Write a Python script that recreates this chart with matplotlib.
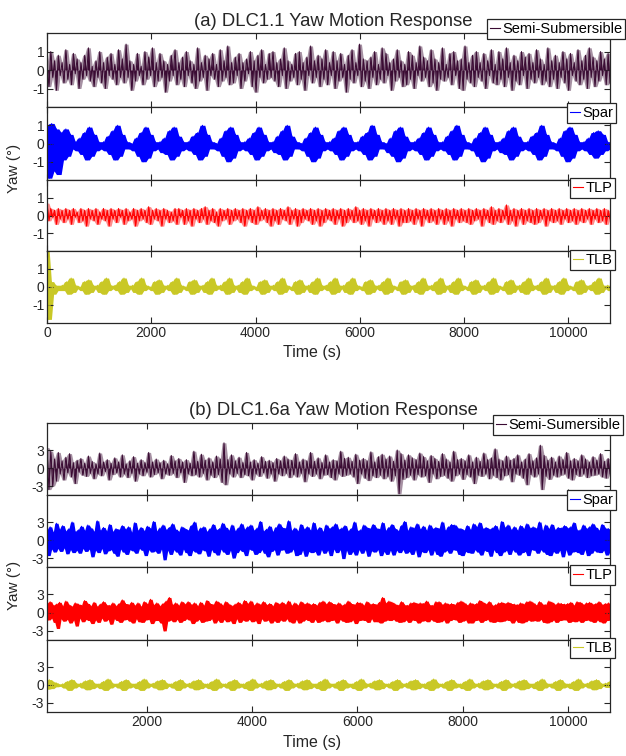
import numpy as np
import matplotlib
matplotlib.use("Agg")
import matplotlib.pyplot as plt

plt.rcParams['font.family'] = ['Liberation Sans', 'DejaVu Sans']

# ---------------- data ----------------
time_range_a = (0, 10800)
time_range_b = (100, 10800)
xticks_a = [0, 2000, 4000, 6000, 8000, 10000]
xticks_b = [2000, 4000, 6000, 8000, 10000]
yticks_a = [-1, 0, 1]
yticks_b = [-3, 0, 3]
labels_a = ['Semi-Submersible', 'Spar', 'TLP', 'TLB']
labels_b = ['Semi-Sumersible', 'Spar', 'TLP', 'TLB']
title_a = '(a) DLC1.1 Yaw Motion Response'
title_b = '(b) DLC1.6a Yaw Motion Response'

semi_a = [
    0.3, -0.9, 1.0, -0.4, 0.5, -1.1, 0.8, -0.3, 0.4, -0.7,
    1.1, -0.5, 0.3, -0.8, 0.9, -0.2, 0.6, -1.0, 0.4, -0.5,
    0.8, -0.3, 1.2, -0.6, 0.2, -0.9, 0.5, -0.4, 1.0, -0.7,
    0.4, -1.0, 0.7, -0.3, 0.9, -0.5, 0.3, -0.8, 1.1, -0.4,
    0.6, -0.7, 1.4, -0.4, 0.5, -1.1, 0.3, -0.6, 0.9, -0.3,
    0.2, -0.8, 1.0, -0.5, 0.7, -0.3, 1.2, -0.9, 0.4, -0.6,
    0.9, -0.4, 0.5, -1.2, 0.3, -0.6, 0.8, -0.3, 1.1, -0.8,
    0.4, -0.5, 0.7, -0.9, 1.0, -0.3, 0.5, -0.7, 0.3, -1.0,
    1.2, -0.6, 0.4, -0.4, 0.8, -1.1, 0.6, -0.3, 0.9, -0.5,
    0.3, -0.9, 1.1, -0.6, 0.5, -0.4, 1.3, -0.8, 0.4, -0.7,
    0.7, -0.3, 0.9, -1.0, 0.4, -0.6, 0.6, -0.2, 1.0, -0.9,
    0.5, -1.2, 0.8, -0.4, 1.1, -0.7, 0.3, -0.5, 0.9, -0.4,
    1.0, -0.6, 0.4, -0.9, 0.6, -0.3, 1.2, -1.0, 0.5, -0.6,
    0.3, -0.4, 0.9, -0.8, 1.0, -0.5, 0.4, -1.1, 0.7, -0.3,
    1.3, -0.7, 0.5, -0.4, 0.8, -0.9, 0.6, -0.5, 1.1, -0.8,
    0.4, -0.3, 1.0, -1.0, 0.5, -0.6, 0.9, -0.4, 0.3, -1.2,
    0.8, -0.5, 1.1, -0.7, 0.4, -0.3, 1.4, -0.9, 0.6, -0.6,
    0.5, -1.0, 0.7, -0.4, 1.0, -0.8, 0.3, -0.5, 1.2, -0.7,
    0.9, -0.3, 0.4, -1.1, 0.6, -0.6, 1.1, -0.4, 0.5, -0.9,
    0.3, -0.8, 1.0, -0.5, 0.8, -1.0, 0.4, -0.3, 1.3, -0.6,
    0.7, -0.4, 0.5, -0.9, 1.1, -0.7, 0.6, -1.1, 0.4, -0.5,
    1.2, -0.6, 0.3, -0.4, 0.9, -0.8, 1.0, -0.3, 0.5, -1.0,
    0.6, -1.1, 1.3, -0.5, 0.4, -0.7, 0.8, -0.9, 1.0, -0.4,
    0.4, -0.6, 0.9, -1.0, 0.5, -0.3, 1.1, -0.7, 0.3, -0.8,
    1.0, -0.5, 0.6, -0.9, 1.2, -0.4, 0.4, -1.1, 0.8, -0.6,
    0.5, -0.8, 1.0, -0.3, 0.7, -1.0, 0.9, -0.5, 0.4, -0.7,
    1.1, -0.4, 0.6, -0.8, 0.3, -0.6, 1.2, -0.9, 0.5, -0.5,
    0.8, -1.0, 0.4, -0.4, 1.0, -0.7, 0.6, -1.1, 0.9, -0.3,
    0.4, -0.6, 1.1, -0.8, 0.5, -0.5, 0.8, -1.0, 1.2, -0.4,
    0.7, -0.9, 0.5, -0.6, 1.0, -0.3, 0.6, -0.8, 0.9, -0.7,
]

spar_a = [
    1.0, -1.9, 1.1, -1.5, 0.8, -1.7, 0.6, -0.9, 0.8, -0.7, 0.5,
    -0.3, 0.1, -0.4, 0.3, -0.6, 0.6, -0.9, 0.9, -0.7, 0.5, -0.4, 0.1,
    -0.3, 0.1, -0.4, 0.4, -0.6, 0.7, -0.9, 1.0, -0.7, 0.5, -0.3, 0.1,
    -0.3, 0.0, -0.4, 0.3, -0.7, 0.6, -1.0, 0.9, -0.8, 0.5, -0.4, 0.1,
    -0.3, 0.1, -0.5, 0.3, -0.6, 0.7, -0.9, 0.9, -0.7, 0.4, -0.4, 0.1,
    -0.3, 0.1, -0.4, 0.4, -0.6, 0.6, -0.9, 1.0, -0.7, 0.5, -0.3, 0.1,
    -0.3, 0.0, -0.4, 0.3, -0.7, 0.7, -1.0, 0.9, -0.8, 0.5, -0.4, 0.1,
    -0.3, 0.1, -0.4, 0.3, -0.6, 0.6, -0.9, 0.9, -0.7, 0.5, -0.4, 0.1,
    -0.3, 0.1, -0.5, 0.4, -0.6, 0.7, -0.9, 1.0, -0.7, 0.4, -0.3, 0.1,
    -0.3, 0.0, -0.4, 0.3, -0.7, 0.6, -1.0, 0.9, -0.8, 0.5, -0.4, 0.1,
    -0.3, 0.1, -0.4, 0.3, -0.6, 0.7, -0.9, 0.9, -0.7, 0.5, -0.4, 0.1,
    -0.3, 0.1, -0.4, 0.4, -0.6, 0.6, -0.9, 1.0, -0.7, 0.5, -0.3, 0.1,
    -0.3, 0.0, -0.5, 0.3, -0.7, 0.7, -1.0, 0.9, -0.8, 0.4, -0.4, 0.1,
    -0.3, 0.1, -0.4, 0.3, -0.6, 0.6, -0.9, 0.9, -0.7, 0.5, -0.4, 0.1,
    -0.3, 0.1, -0.4, 0.4, -0.6, 0.7, -0.9, 1.0, -0.7, 0.5, -0.3, 0.1,
    -0.3, 0.0, -0.4, 0.3, -0.7, 0.6, -1.0, 0.9, -0.8, 0.5, -0.4, 0.1,
    -0.3, 0.1, -0.5, 0.3, -0.6, 0.7, -0.9, 0.9, -0.7, 0.4, -0.4, 0.1,
    -0.3, 0.1, -0.4, 0.4, -0.6, 0.6, -0.9, 1.0, -0.7, 0.5, -0.3, 0.1,
    -0.3, 0.0, -0.4, 0.3, -0.7, 0.7, -1.0, 0.9, -0.8, 0.5, -0.4, 0.1,
    -0.3, 0.1, -0.4, 0.3, -0.6, 0.6, -0.8, 0.7, -0.6, 0.5, -0.4, 0.1,
    -0.3,
]

tlp_a = [
    0.7, -0.3, 0.4, -0.1, 0.3, -0.5, 0.4, -0.2, 0.3, -0.4,
    0.4, -0.2, 0.3, -0.5, 0.4, -0.1, 0.2, -0.4, 0.4, -0.3,
    0.3, -0.6, 0.4, -0.2, 0.3, -0.3, 0.4, -0.5, 0.2, -0.2,
    0.4, -0.3, 0.3, -0.6, 0.4, -0.2, 0.3, -0.4, 0.4, -0.1,
    0.3, -0.5, 0.4, -0.3, 0.2, -0.2, 0.4, -0.6, 0.3, -0.3,
    0.4, -0.2, 0.3, -0.4, 0.5, -0.5, 0.3, -0.2, 0.4, -0.3,
    0.3, -0.6, 0.4, -0.2, 0.3, -0.4, 0.2, -0.3, 0.4, -0.5,
    0.4, -0.1, 0.3, -0.5, 0.4, -0.3, 0.3, -0.6, 0.4, -0.2,
    0.3, -0.4, 0.4, -0.2, 0.5, -0.5, 0.3, -0.3, 0.4, -0.4,
    0.2, -0.6, 0.4, -0.3, 0.3, -0.2, 0.4, -0.5, 0.3, -0.3,
    0.4, -0.2, 0.3, -0.4, 0.4, -0.6, 0.3, -0.2, 0.4, -0.4,
    0.3, -0.5, 0.5, -0.3, 0.3, -0.2, 0.4, -0.4, 0.3, -0.6,
    0.4, -0.3, 0.3, -0.5, 0.4, -0.2, 0.3, -0.3, 0.5, -0.5,
    0.3, -0.2, 0.4, -0.6, 0.3, -0.4, 0.4, -0.2, 0.3, -0.3,
    0.4, -0.5, 0.3, -0.3, 0.4, -0.6, 0.3, -0.4, 0.4, -0.2,
    0.3, -0.3, 0.4, -0.5, 0.3, -0.2, 0.4, -0.6, 0.3, -0.4,
    0.4, -0.2, 0.3, -0.4, 0.5, -0.3, 0.3, -0.5, 0.4, -0.3,
    0.3, -0.6, 0.4, -0.2, 0.3, -0.4, 0.4, -0.3, 0.3, -0.5,
    0.4, -0.3, 0.3, -0.5, 0.4, -0.2, 0.3, -0.6, 0.4, -0.4,
    0.3, -0.4, 0.4, -0.3, 0.3, -0.5, 0.4, -0.2, 0.3, -0.6,
    0.4, -0.2, 0.3, -0.4, 0.4, -0.3, 0.3, -0.5, 0.4, -0.2,
    0.3, -0.5, 0.4, -0.3, 0.3, -0.6, 0.4, -0.2, 0.3, -0.4,
    0.4, -0.3, 0.3, -0.4, 0.4, -0.5, 0.3, -0.3, 0.4, -0.2,
    0.3, -0.6, 0.4, -0.2, 0.3, -0.4, 0.5, -0.5, 0.3, -0.3,
    0.4, -0.4, 0.3, -0.2, 0.6, -0.5, 0.3, -0.3, 0.4, -0.6,
    0.3, -0.2, 0.4, -0.5, 0.3, -0.3, 0.4, -0.4, 0.3, -0.5,
    0.4, -0.4, 0.3, -0.2, 0.4, -0.6, 0.3, -0.3, 0.4, -0.4,
    0.3, -0.3, 0.4, -0.5, 0.3, -0.2, 0.4, -0.4, 0.3, -0.3,
    0.4, -0.5, 0.3, -0.3, 0.4, -0.4, 0.3, -0.2, 0.4, -0.5,
    0.3, -0.2, 0.4, -0.4, 0.3, -0.3, 0.4, -0.5, 0.3, -0.2,
]

tlb_a = [
    2.0, -1.8, 0.3, -0.4, 0.1, -0.2,
    -0.1, 0.1, -0.2, 0.3, -0.4, 0.5, -0.3, 0.1,
    -0.1, 0.0, -0.2, 0.3, -0.4, 0.4, -0.3, 0.1,
    -0.1, 0.1, -0.3, 0.3, -0.4, 0.5, -0.2, 0.1,
    -0.1, 0.1, -0.2, 0.3, -0.4, 0.5, -0.3, 0.1,
    -0.1, 0.1, -0.3, 0.3, -0.4, 0.5, -0.2, 0.1,
    -0.1, 0.0, -0.2, 0.3, -0.4, 0.4, -0.3, 0.1,
    -0.1, 0.1, -0.2, 0.3, -0.4, 0.5, -0.3, 0.1,
    -0.1, 0.0, -0.2, 0.3, -0.4, 0.4, -0.3, 0.1,
    -0.1, 0.1, -0.3, 0.3, -0.4, 0.5, -0.2, 0.1,
    -0.1, 0.1, -0.2, 0.3, -0.4, 0.5, -0.3, 0.1,
    -0.1, 0.1, -0.3, 0.3, -0.4, 0.5, -0.2, 0.1,
    -0.1, 0.0, -0.2, 0.3, -0.4, 0.4, -0.3, 0.1,
    -0.1, 0.1, -0.2, 0.3, -0.4, 0.5, -0.3, 0.1,
    -0.1, 0.0, -0.2, 0.3, -0.4, 0.4, -0.3, 0.1,
    -0.1, 0.1, -0.3, 0.3, -0.4, 0.5, -0.2, 0.1,
    -0.1, 0.1, -0.2, 0.3, -0.4, 0.5, -0.3, 0.1,
    -0.1, 0.1, -0.3, 0.3, -0.4, 0.5, -0.2, 0.1,
    -0.1, 0.0, -0.2, 0.3, -0.4, 0.4, -0.3, 0.1,
    -0.1, 0.1, -0.2, 0.3, -0.4, 0.5, -0.3, 0.1,
    -0.1, 0.0, -0.2, 0.3, -0.4, 0.4, -0.3, 0.1,
    -0.1, 0.1, -0.3, 0.3, -0.4, 0.5, -0.2, 0.1,
    -0.1, 0.1, -0.2, 0.3, -0.4, 0.5, -0.3, 0.1,
    -0.1, 0.1, -0.3, 0.3, -0.4, 0.5, -0.2, 0.1,
    -0.1, 0.0, -0.2, 0.3, -0.4, 0.4, -0.3, 0.1,
    -0.1, 0.1, -0.2, 0.3, -0.4, 0.5, -0.3, 0.1,
    -0.1, 0.0, -0.2, 0.3, -0.4, 0.4, -0.3, 0.1,
    -0.1, 0.1, -0.3, 0.3, -0.4, 0.5, -0.2, 0.1,
    -0.1, 0.1, -0.2, 0.3, -0.4, 0.5, -0.3, 0.1,
    -0.1, 0.1, -0.3, 0.3, -0.4, 0.5, -0.2, 0.1,
    -0.1, 0.0, -0.2, 0.3, -0.4, 0.4, -0.3, 0.1,
    -0.1, 0.1, -0.2, 0.3, -0.4, 0.5, -0.3, 0.1,
    -0.1, 0.1, -0.2,
]

semi_b = [
    3.4, -3.6, 2.8, -3.0, 1.5, -2.2, 2.6, -1.0, 1.2, -2.0,
    1.8, -0.8, 2.4, -1.5, 0.9, -2.6, 1.3, -0.7, 1.6, -1.2,
    0.8, -1.4, 2.0, -0.9, 1.1, -1.8, 0.7, -1.0, 2.5, -1.3,
    1.0, -0.6, 1.4, -2.0, 0.8, -1.1, 1.7, -0.8, 1.0, -1.5,
    2.2, -1.0, 0.7, -1.6, 1.2, -0.9, 1.9, -2.2, 0.8, -1.0,
    1.4, -1.3, 0.9, -0.7, 2.6, -1.5, 1.0, -1.1, 1.5, -0.8,
    0.9, -1.8, 1.3, -1.0, 0.7, -1.2, 2.1, -0.9, 1.2, -1.6,
    1.6, -0.8, 1.0, -2.4, 1.4, -1.0, 0.8, -1.3, 2.8, -1.1,
    1.1, -1.5, 2.3, -0.9, 1.3, -2.0, 1.7, -1.2, 1.0, -1.6,
    2.0, -1.1, 1.5, -2.4, 4.2, -2.8, 1.4, -1.0, 2.2, -1.5,
    1.2, -0.9, 1.8, -1.6, 0.9, -1.1, 2.6, -1.3, 1.0, -2.0,
    1.4, -1.0, 0.8, -1.4, 1.9, -0.8, 1.1, -1.7, 1.3, -1.0,
    0.9, -2.2, 1.6, -1.0, 1.2, -1.3, 2.0, -0.9, 1.5, -1.6,
    1.3, -1.1, 2.4, -1.5, 1.0, -0.9, 1.5, -2.3, 1.2, -1.0,
    2.6, -1.4, 1.1, -1.0, 1.7, -1.8, 0.9, -1.2, 2.2, -1.1,
    1.0, -1.6, 1.4, -2.0, 1.2, -1.0, 2.8, -1.4, 1.6, -1.2,
    1.8, -1.0, 1.1, -1.5, 2.3, -2.6, 1.3, -1.0, 1.6, -1.7,
    1.2, -2.1, 2.7, -1.3, 1.0, -1.6, 1.9, -1.2, 2.3, -1.8,
    1.5, -1.4, 2.0, -2.2, 1.1, -1.3, 3.0, -4.3, 2.4, -1.9,
    1.3, -1.6, 2.2, -1.2, 1.7, -2.0, 1.4, -1.1, 2.5, -1.5,
    1.9, -1.3, 1.2, -2.4, 2.1, -1.0, 1.6, -1.8, 1.1, -1.4,
    2.4, -1.2, 1.5, -1.7, 1.0, -2.2, 2.8, -1.3, 1.4, -1.0,
    1.6, -1.9, 1.2, -1.1, 2.2, -1.5, 1.0, -2.6, 1.8, -1.2,
    1.1, -1.4, 2.5, -1.0, 1.4, -1.8, 1.7, -1.2, 3.2, -1.6,
    1.5, -2.0, 1.2, -1.3, 2.0, -1.1, 1.3, -2.3, 1.6, -1.0,
    2.2, -1.2, 1.0, -1.7, 1.5, -2.8, 2.4, -1.1, 1.2, -1.5,
    1.7, -1.0, 3.8, -3.6, 2.1, -1.4, 1.3, -1.9, 1.8, -1.2,
    1.0, -1.5, 2.0, -1.2, 1.4, -1.0, 2.6, -1.7, 1.2, -2.0,
    1.6, -1.1, 1.2, -1.4, 2.2, -1.0, 1.5, -1.6, 1.0, -1.3,
    1.9, -1.2, 1.3, -1.0, 2.4, -1.5, 1.1, -1.7, 1.6, -1.0,
]

spar_b = [
    1.6, -2.6, 2.2, -1.5, 1.3, -2.0, 2.8, -1.4, 1.8, -1.9,
    2.4, -1.3, 1.5, -2.3, 1.9, -1.6, 3.0, -2.1, 1.4, -1.7,
    1.7, -2.2, 2.3, -1.4, 1.6, -1.9, 2.5, -1.5, 2.0, -2.8,
    1.4, -1.7, 3.2, -2.1, 1.6, -1.4, 2.1, -2.3, 1.5, -1.8,
    2.6, -1.6, 1.4, -2.2, 1.9, -2.7, 1.7, -1.5, 2.4, -2.0,
    1.8, -2.4, 2.2, -1.6, 1.3, -1.8, 2.9, -2.2, 1.6, -1.4,
    2.1, -1.7, 1.5, -2.6, 2.3, -1.6, 1.9, -2.0, 3.1, -1.8,
    1.5, -2.2, 2.0, -1.5, 2.5, -3.3, 1.7, -1.7, 2.1, -2.4,
    2.7, -1.6, 1.8, -2.0, 1.4, -2.5, 2.2, -1.5, 1.9, -2.1,
    1.6, -2.6, 2.4, -1.7, 3.0, -2.0, 1.5, -2.3, 2.0, -1.6,
    2.2, -1.8, 1.4, -2.7, 1.9, -1.6, 2.6, -2.1, 1.7, -2.5,
    1.9, -1.5, 2.8, -2.0, 2.1, -2.4, 1.6, -1.7, 2.5, -3.0,
    1.5, -2.1, 2.0, -1.6, 2.7, -1.9, 1.8, -2.6, 2.2, -1.5,
    2.5, -1.7, 1.6, -2.4, 2.0, -2.1, 3.1, -1.6, 1.5, -2.2,
    1.8, -2.8, 2.3, -1.9, 1.4, -1.6, 2.1, -2.5, 2.7, -1.7,
    2.1, -1.6, 1.9, -2.2, 3.2, -2.0, 1.6, -1.5, 2.0, -2.6,
    1.5, -2.4, 2.6, -1.7, 1.8, -2.7, 2.2, -1.9, 1.6, -2.1,
    2.9, -1.9, 1.7, -2.5, 2.1, -1.6, 1.4, -2.2, 2.5, -1.7,
    1.9, -2.6, 2.2, -1.5, 2.7, -2.1, 1.8, -1.6, 2.0, -3.1,
    2.4, -1.7, 1.5, -2.4, 1.9, -1.9, 3.0, -2.5, 1.6, -1.6,
    1.7, -2.2, 2.5, -1.6, 2.1, -2.7, 1.9, -1.8, 2.6, -2.0,
    2.0, -1.6, 1.8, -2.6, 2.9, -1.9, 1.6, -2.4, 2.1, -1.7,
    2.6, -2.5, 1.9, -1.7, 1.5, -2.1, 2.4, -1.6, 3.1, -2.2,
    1.6, -1.9, 2.2, -2.4, 2.0, -1.6, 2.7, -2.8, 1.8, -1.9,
    2.3, -2.1, 1.6, -1.6, 2.5, -2.5, 1.9, -1.7, 2.1, -2.4,
    1.9, -2.7, 3.0, -2.0, 1.6, -1.7, 2.2, -2.2, 2.6, -1.6,
    2.5, -1.7, 2.0, -2.4, 1.9, -2.6, 1.6, -1.9, 2.4, -2.1,
    1.7, -2.2, 2.7, -1.6, 2.2, -2.0, 2.9, -2.5, 1.9, -1.7,
    2.1, -1.9, 1.8, -2.7, 2.0, -1.6, 2.4, -2.1, 1.6, -2.6,
    3.1, -2.0, 2.1, -1.7, 2.5, -2.4, 1.7, -1.6, 2.2, -2.0,
    1.6, -2.5, 2.4, -2.1, 1.9, -1.9, 2.7, -2.6, 2.0, -1.6,
    2.2, -1.7, 1.9, -2.2, 3.0, -1.6, 1.6, -2.0, 2.5, -2.4,
    1.9, -2.6, 2.6, -1.9, 1.7, -2.2, 2.1, -1.7, 2.0, -2.8,
    2.4, -1.6, 2.0, -2.5, 2.2, -2.0, 2.9, -1.9, 1.7, -2.1,
    1.7, -2.4, 2.5, -1.6, 1.9, -2.6, 2.2, -2.2, 2.7, -1.7,
    2.1, -2.0, 1.6, -2.1, 2.6, -1.7, 2.0, -2.5, 1.9, -1.9,
]

tlp_b = [
    1.5, -1.2, 1.8, -0.9, 1.2, -1.6, 1.4, -2.6, 1.7, -1.0,
    1.1, -1.4, 1.9, -1.1, 1.3, -1.7, 1.0, -1.2, 1.6, -2.2,
    1.4, -0.9, 1.2, -1.5, 2.0, -1.1, 1.5, -1.3, 1.1, -1.8,
    1.7, -1.2, 1.0, -1.6, 1.4, -0.9, 1.8, -1.4, 1.3, -1.1,
    1.2, -1.9, 1.6, -1.0, 1.1, -1.3, 1.5, -1.6, 2.1, -1.2,
    1.5, -1.1, 1.3, -1.4, 1.7, -1.7, 1.2, -1.0, 1.6, -1.5,
    1.0, -1.6, 1.8, -1.2, 1.4, -1.1, 2.2, -1.8, 1.3, -1.3,
    1.6, -1.3, 1.1, -1.7, 1.5, -3.0, 1.9, -1.4, 2.5, -1.2,
    1.3, -1.5, 1.6, -1.1, 1.2, -1.6, 1.8, -1.3, 1.4, -1.0,
    1.8, -1.2, 1.3, -1.8, 1.6, -1.4, 1.1, -1.1, 1.7, -1.6,
    1.2, -1.4, 2.0, -1.3, 1.5, -1.0, 1.3, -1.7, 1.9, -1.2,
    1.6, -1.6, 1.2, -1.1, 1.8, -1.5, 1.4, -1.3, 1.1, -1.8,
    1.4, -1.0, 1.7, -1.6, 1.3, -1.2, 2.0, -1.4, 1.5, -1.1,
    1.9, -1.5, 1.2, -1.3, 1.6, -1.8, 1.3, -1.0, 1.8, -1.4,
    1.3, -1.2, 1.5, -1.7, 1.1, -1.3, 1.7, -1.6, 1.4, -1.2,
    1.7, -1.4, 1.3, -1.0, 1.9, -1.5, 1.2, -1.7, 1.6, -1.1,
    1.2, -1.7, 1.8, -1.4, 1.4, -1.1, 1.6, -1.3, 1.3, -1.6,
    1.5, -1.1, 1.2, -1.6, 1.7, -1.4, 1.9, -1.2, 1.4, -1.5,
    1.8, -1.3, 1.5, -1.2, 1.3, -1.7, 1.6, -1.1, 1.2, -1.4,
    1.4, -1.6, 1.9, -1.5, 1.5, -1.2, 1.3, -1.8, 1.7, -1.3,
    1.6, -1.2, 1.2, -1.3, 1.8, -1.6, 1.4, -1.0, 1.5, -1.5,
    1.3, -1.5, 1.7, -1.7, 2.5, -1.4, 1.6, -1.2, 1.9, -1.3,
    1.7, -1.1, 1.4, -1.4, 1.2, -1.6, 1.8, -1.5, 1.3, -1.2,
    1.2, -1.6, 1.6, -1.2, 1.7, -1.3, 1.5, -1.7, 1.6, -1.4,
    1.5, -1.3, 1.9, -1.5, 1.3, -1.1, 1.2, -1.4, 1.8, -1.6,
    1.8, -1.5, 1.3, -1.2, 1.6, -1.7, 1.4, -1.3, 1.5, -1.1,
    1.3, -1.2, 1.7, -1.6, 1.9, -1.4, 1.6, -1.2, 1.2, -1.7,
    1.6, -1.7, 1.4, -1.3, 1.5, -1.2, 2.0, -1.6, 1.7, -1.3,
    1.4, -1.1, 1.8, -1.5, 1.2, -1.6, 1.3, -1.4, 1.6, -1.5,
    1.7, -1.4, 1.5, -1.2, 1.7, -1.3, 1.5, -1.7, 1.4, -1.2,
    1.3, -1.6, 1.6, -1.7, 1.4, -1.5, 1.8, -1.2, 1.9, -1.4,
    1.6, -1.3, 1.2, -1.4, 1.8, -1.1, 1.4, -1.6, 1.3, -1.7,
    1.9, -1.5, 1.7, -1.2, 1.3, -1.6, 1.6, -1.3, 1.5, -1.2,
    1.4, -1.2, 1.5, -1.6, 1.7, -1.4, 1.2, -1.5, 1.8, -1.3,
    1.7, -1.6, 1.3, -1.3, 1.6, -1.2, 1.7, -1.4, 1.4, -1.6,
    1.5, -1.2, 1.8, -1.5, 1.3, -1.7, 1.5, -1.3, 1.6, -1.2,
]

tlb_b = [
    -0.7, 0.9, -0.6, 0.5, -0.3, 0.2,
    -0.2, 0.2, -0.5, 0.6, -0.9, 0.9, -0.5, 0.3,
    -0.2, 0.3, -0.5, 0.7, -0.8, 0.9, -0.6, 0.3,
    -0.3, 0.2, -0.6, 0.6, -0.9, 1.0, -0.5, 0.3,
    -0.2, 0.2, -0.5, 0.6, -0.9, 0.9, -0.5, 0.3,
    -0.3, 0.2, -0.6, 0.6, -0.9, 1.0, -0.5, 0.3,
    -0.2, 0.3, -0.5, 0.7, -0.8, 0.9, -0.6, 0.3,
    -0.2, 0.2, -0.5, 0.6, -0.9, 0.9, -0.5, 0.3,
    -0.2, 0.3, -0.5, 0.7, -0.8, 0.9, -0.6, 0.3,
    -0.3, 0.2, -0.6, 0.6, -0.9, 1.0, -0.5, 0.3,
    -0.2, 0.2, -0.5, 0.6, -0.9, 0.9, -0.5, 0.3,
    -0.3, 0.2, -0.6, 0.6, -0.9, 1.0, -0.5, 0.3,
    -0.2, 0.3, -0.5, 0.7, -0.8, 0.9, -0.6, 0.3,
    -0.2, 0.2, -0.5, 0.6, -0.9, 0.9, -0.5, 0.3,
    -0.2, 0.3, -0.5, 0.7, -0.8, 0.9, -0.6, 0.3,
    -0.3, 0.2, -0.6, 0.6, -0.9, 1.0, -0.5, 0.3,
    -0.2, 0.2, -0.5, 0.6, -0.9, 0.9, -0.5, 0.3,
    -0.3, 0.2, -0.6, 0.6, -0.9, 1.0, -0.5, 0.3,
    -0.2, 0.3, -0.5, 0.7, -0.8, 0.9, -0.6, 0.3,
    -0.2, 0.2, -0.5, 0.6, -0.9, 0.9, -0.5, 0.3,
    -0.2, 0.3, -0.5, 0.7, -0.8, 0.9, -0.6, 0.3,
    -0.3, 0.2, -0.6, 0.6, -0.9, 1.0, -0.5, 0.3,
    -0.2, 0.2, -0.5, 0.6, -0.9, 0.9, -0.5, 0.3,
    -0.3, 0.2, -0.6, 0.6, -0.9, 1.0, -0.5, 0.3,
    -0.2, 0.3, -0.5, 0.7, -0.8, 0.9, -0.6, 0.3,
    -0.2, 0.2, -0.5, 0.6, -0.9, 0.9, -0.5, 0.3,
    -0.2, 0.3, -0.5, 0.7, -0.8, 0.9, -0.6, 0.3,
    -0.3, 0.2, -0.6, 0.6, -0.9, 1.0, -0.5, 0.3,
    -0.2, 0.2, -0.5, 0.6, -0.9, 0.9, -0.5, 0.3,
    -0.3, 0.2, -0.6, 0.6, -0.9, 1.0, -0.5, 0.3,
    -0.2, 0.3, -0.5, 0.7, -0.8, 0.9, -0.6, 0.3,
    -0.2, 0.3, -0.4, 0.6,
]

series_a = [semi_a, spar_a, tlp_a, tlb_a]
series_b = [semi_b, spar_b, tlp_b, tlb_b]
colors = ['#3a0b33', '#0000ff', '#ff0000', '#c9c826']
# how the dense oscillation is shaded:
#  'band' = area between the local lower and upper swing of the signal
#  'both' = light band plus solid area between signal and 0
shade_a = ['both', 'band', 'both', 'band']
shade_b = ['both', 'band', 'band', 'band']
line_width = 0.7

# ---------------- layout (pixels) ----------------
W, H = 626, 756
fig = plt.figure(figsize=(W / 100, H / 100), dpi=100)
AX_L, AX_R = 47, 610
rows_a = [33, 107, 180, 251, 323]
rows_b = [423, 495, 567, 640, 712]
legend_a = [(625, 19), (616, 103), (615, 178), (615, 250)]
legend_b = [(623, 415), (616, 490), (615, 565), (615, 638)]
SPINE = '#262626'


def make_panels(rows, data, labels, shades, trange, ylim, yticks, xticks, legpos):
    axes = []
    for i in range(4):
        top, bot = rows[i], rows[i + 1]
        ax = fig.add_axes([AX_L / W, 1 - bot / H, (AX_R - AX_L) / W, (bot - top) / H])
        y = np.asarray(data[i], dtype=float)
        t = np.linspace(trange[0], trange[1], len(y))
        yp = np.pad(y, 1, mode='edge')
        hi = np.maximum(np.maximum(yp[:-2], yp[1:-1]), yp[2:])
        lo = np.minimum(np.minimum(yp[:-2], yp[1:-1]), yp[2:])
        if shades[i] == 'band':
            ax.fill_between(t, lo, hi, color=colors[i], lw=0)
        else:
            ax.fill_between(t, lo, hi, color=colors[i], lw=0, alpha=0.45)
            ax.fill_between(t, y, 0, color=colors[i], lw=0, interpolate=True)
        ax.plot(t, y, color=colors[i], lw=line_width, label=labels[i])
        ax.set_xlim(*trange)
        ax.set_ylim(*ylim)
        ax.set_xticks(xticks)
        ax.set_yticks(yticks)
        ax.set_yticklabels([str(v) for v in yticks])
        ax.tick_params(direction='in', top=True, right=True, length=4, width=0.8,
                       labelsize=10, pad=2, colors=SPINE, labelcolor='#262626')
        if i < 3:
            ax.tick_params(labelbottom=False)
        for s in ax.spines.values():
            s.set_color(SPINE)
            s.set_linewidth(0.9)
        rx, ty = legpos[i]
        leg = ax.legend(loc='upper right', bbox_to_anchor=(rx / W, 1 - ty / H),
                        bbox_transform=fig.transFigure, fontsize=10.5, frameon=True,
                        fancybox=False, framealpha=1, handlelength=0.7,
                        handletextpad=0.15, borderpad=0.2, borderaxespad=0)
        leg.get_frame().set_edgecolor(SPINE)
        leg.get_frame().set_linewidth(0.9)
        for h in leg.get_lines():
            h.set_linewidth(0.8)
        leg.set_zorder(10)
        axes.append(ax)
    return axes


axes_a = make_panels(rows_a, series_a, labels_a, shade_a, time_range_a, (-2, 2),
                     yticks_a, xticks_a, legend_a)
axes_b = make_panels(rows_b, series_b, labels_b, shade_b, time_range_b, (-4.5, 7.5),
                     yticks_b, xticks_b, legend_b)

for axes, rows, title, ylab_c in [(axes_a, rows_a, title_a, 168), (axes_b, rows_b, title_b, 585)]:
    axb = axes[-1]
    axb.set_xlabel('Time (s)', fontsize=11.5, color='#262626', va='center')
    axb.xaxis.set_label_coords((312 - AX_L) / (AX_R - AX_L), -30 / (rows[4] - rows[3]))
    fig.text(333 / W, 1 - (rows[0] - 12) / H, title, ha='center', va='center',
             fontsize=13.3, color='#262626')
    fig.text(14 / W, 1 - ylab_c / H, 'Yaw (°)', rotation=90, ha='center', va='center',
             fontsize=11, color='#262626')

fig.savefig('out.png', dpi=100)
